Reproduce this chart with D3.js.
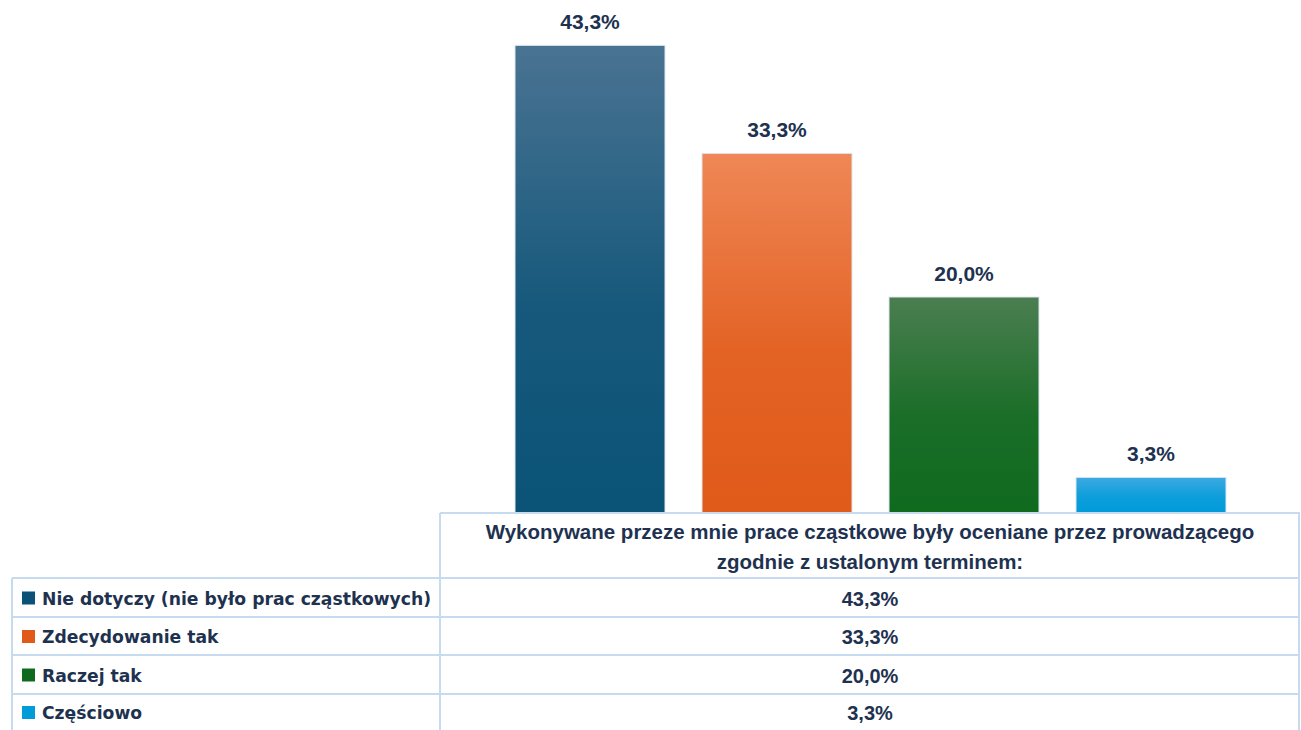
<!DOCTYPE html>
<html>
<head>
<meta charset="UTF-8">
<title>Prace cząstkowe</title>
<script src="https://cdn.jsdelivr.net/npm/d3@7"></script>
<style>
  body { margin: 0; background: #fff; }
  text { font-family: "Liberation Sans", Arial, sans-serif; fill: #1e3250; }
</style>
</head>
<body>
<svg id="chart" width="1301" height="730"></svg>
<script>
// data
var series = ["Nie dotyczy (nie było prac cząstkowych)", "Zdecydowanie tak", "Raczej tak", "Częściowo"];
var values = [43.3, 33.3, 20.0, 3.3];
var category = ["Wykonywane przeze mnie prace cząstkowe były oceniane przez prowadzącego", "zgodnie z ustalonym terminem:"];
var colorsTop = ["#4a7392", "#ef8756", "#4b7e51", "#3eaae2"];
var colorsBottom = ["#0a5377", "#e05a19", "#0f6a1e", "#009bd9"];

var svg = d3.select("#chart");
var fmt = function (v) { return v.toFixed(1).replace(".", ",") + "%"; };

var plotLeft = 440, plotRight = 1300, baseY = 513;
var y = d3.scaleLinear().domain([0, 50]).range([baseY, baseY - 540]);
// one category, four series inside it
var x0 = d3.scaleBand().domain(["c"]).range([plotLeft, plotRight]);
var x1 = d3.scaleBand().domain(series).range([515, 1226]).paddingInner(37 / 187).paddingOuter(0);

var defs = svg.append("defs");
series.forEach(function (s, i) {
  var g = defs.append("linearGradient").attr("id", "grad" + i)
    .attr("x1", 0).attr("y1", 0).attr("x2", 0).attr("y2", 1);
  g.append("stop").attr("offset", "0%").attr("stop-color", colorsTop[i]);
  g.append("stop").attr("offset", "55%").attr("stop-color", d3.interpolateRgb(colorsTop[i], colorsBottom[i])(0.8));
  g.append("stop").attr("offset", "100%").attr("stop-color", colorsBottom[i]);
});

// bars
svg.selectAll("rect.bar")
  .data(values)
  .enter()
  .append("rect")
  .attr("class", "bar")
  .attr("x", function (d, i) { return x1(series[i]); })
  .attr("y", function (d) { return y(d); })
  .attr("width", x1.bandwidth())
  .attr("height", function (d) { return baseY - y(d); })
  .attr("fill", function (d, i) { return "url(#grad" + i + ")"; })
  .attr("stroke", "#dfe6ee")
  .attr("stroke-width", 1);

// labels above bars
svg.selectAll("text.lbl")
  .data(values)
  .enter()
  .append("text")
  .attr("class", "lbl")
  .attr("x", function (d, i) { return x1(series[i]) + x1.bandwidth() / 2; })
  .attr("y", function (d) { return y(d) - 16; })
  .attr("text-anchor", "middle")
  .style("font-weight", "bold")
  .style("font-size", "21px")
  .text(fmt);

// data table under the chart
var tableLeft = 12, rowTops = [513, 578, 617, 655, 694, 730];
var grid = svg.append("g").attr("stroke", "#c6daf0").attr("stroke-width", 2).attr("fill", "none");
grid.append("line").attr("x1", plotLeft).attr("x2", plotRight).attr("y1", rowTops[0]).attr("y2", rowTops[0]);
for (var r = 1; r < rowTops.length - 1; r++) {
  grid.append("line").attr("x1", tableLeft).attr("x2", plotRight).attr("y1", rowTops[r]).attr("y2", rowTops[r]);
}
grid.append("line").attr("x1", plotLeft).attr("x2", plotLeft).attr("y1", rowTops[0]).attr("y2", 730);
grid.append("line").attr("x1", plotRight - 1).attr("x2", plotRight - 1).attr("y1", rowTops[0]).attr("y2", 730);
grid.append("line").attr("x1", tableLeft).attr("x2", tableLeft).attr("y1", rowTops[1]).attr("y2", 730);

// header text
svg.selectAll("text.head")
  .data(category)
  .enter()
  .append("text")
  .attr("class", "head")
  .attr("x", x0("c") + x0.bandwidth() / 2)
  .attr("y", function (d, i) { return 539 + i * 30; })
  .attr("text-anchor", "middle")
  .style("font-weight", "bold")
  .style("font-size", "20.5px")
  .text(function (d) { return d; });

// legend rows
var rows = svg.selectAll("g.row")
  .data(series)
  .enter()
  .append("g")
  .attr("class", "row")
  .attr("transform", function (d, i) { return "translate(0," + (rowTops[i + 1] + rowTops[i + 2]) / 2 + ")"; });

rows.append("rect")
  .attr("x", 22).attr("y", -6).attr("width", 13).attr("height", 13)
  .attr("fill", function (d, i) { return colorsBottom[i]; });

rows.append("text")
  .attr("x", 42).attr("y", 7)
  .style("font-family", "'DejaVu Sans', sans-serif")
  .style("font-weight", "bold")
  .style("font-size", "17.2px")
  .text(function (d) { return d; });

rows.append("text")
  .attr("x", x0("c") + x0.bandwidth() / 2).attr("y", 8)
  .attr("text-anchor", "middle")
  .style("font-weight", "bold")
  .style("font-size", "20px")
  .text(function (d, i) { return fmt(values[i]); });
</script>
</body>
</html>
